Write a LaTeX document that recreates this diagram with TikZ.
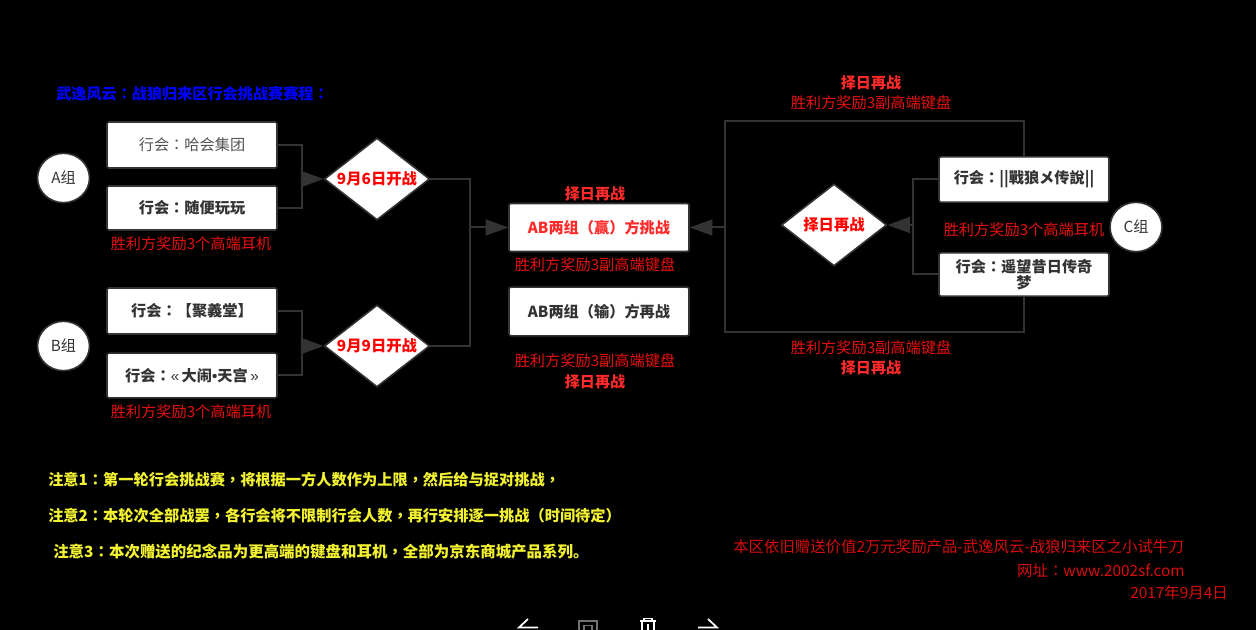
\documentclass[tikz,border=0pt]{standalone}
\usepackage{fontspec}
\setmainfont{Noto Sans CJK SC}
\newfontfamily\tcf{Noto Sans CJK TC}
\newfontfamily\latf{Liberation Sans}
\newcommand{\pc}[1]{{\tcf #1}}
\usetikzlibrary{shapes.geometric,arrows.meta}
\definecolor{ln}{HTML}{333333}
\definecolor{rd}{HTML}{E81010}
\definecolor{frd}{HTML}{D80C0C}
\definecolor{brd}{HTML}{FF2A2A}
\definecolor{yl}{HTML}{F2F230}
\tikzset{
  x=.75pt,y=-.75pt,
  fbox/.style={rectangle,rounded corners=1.5pt,fill=white,draw=ln,line width=1.2pt,minimum width=127.5pt,inner sep=0pt,text=ln,align=center,font=\fontsize{11.4}{13.5}\selectfont\bfseries},
  plainbox/.style={fbox,text=ln!85!white,font=\fontsize{11.4}{13.5}\selectfont},
  grp/.style={ellipse,fill=white,draw=ln,line width=1.2pt,minimum width=39pt,minimum height=37pt,inner sep=0pt,text=ln,font=\fontsize{11.4}{13}\selectfont},
  dia/.style={diamond,aspect=1.28,fill=white,draw=ln,line width=1.2pt,minimum width=79pt,minimum height=61.5pt,inner sep=0pt,text=red,font=\fontsize{11.5}{13}\selectfont\bfseries},
  conn/.style={ln,line width=1.5pt},
  arr/.style={ln,line width=1.5pt,-{Triangle[length=17pt,width=12pt,fill=ln]}},
  prize/.style={text=rd,inner sep=0pt,font=\fontsize{11.4}{13}\selectfont},
  retry/.style={text=brd,inner sep=0pt,font=\fontsize{11.3}{13}\selectfont\bfseries},
  note/.style={text=yl,inner sep=0pt,anchor=west,font=\fontsize{11.42}{13}\selectfont\bfseries},
  foot/.style={text=frd,inner sep=0pt,anchor=east,font=\fontsize{11.55}{13}\selectfont},
  icon/.style={white,line width=1.3pt}
}
\begin{document}
\begin{tikzpicture}
\useasboundingbox (0,0) rectangle (1256,630);
\fill[black] (0,0) rectangle (1256,630);
\begin{scope}
\clip (0,0) rectangle (1256,630);
\node[text=blue,inner sep=0pt,anchor=west,font=\fontsize{11.35}{13}\selectfont\bfseries] (title) at (56,94) {武逸风云\pc{：}战狼归来区行会挑战赛赛程\pc{：}};
% left group A
\node[plainbox,minimum height=34.5pt] (a1) at (192,145) {行会\pc{：}哈会集团};
\node[fbox,minimum height=33pt] (a2) at (192,208) {行会\pc{：}随便玩玩};
\node[grp] (ga) at (63.5,178) {A组};
\node[dia] (d1) at (377,179) {9月6日开战};
\node[prize] (pa) at (191,243.5) {胜利方奖励3个高端耳机};
% left group B
\node[fbox,minimum height=34.5pt] (b1) at (192,311) {行会\pc{：}【聚義堂】};
\node[fbox,minimum height=33.5pt] (b2) at (192,375.5) {行会\pc{：}{\latf\mdseries«\,}大闹{\latf •}天宫{\latf\mdseries\,»}};
\node[grp] (gb) at (63.5,346) {B组};
\node[dia] (d2) at (377,346) {9月9日开战};
\node[prize] (pb) at (191,411.5) {胜利方奖励3个高端耳机};
% centre
\node[fbox,minimum width=135pt,minimum height=36pt,text=brd] (w) at (599,227.5) {AB两组\pc{（}赢\pc{）}方挑战};
\node[fbox,minimum width=135pt,minimum height=36.5pt] (l) at (599,311.5) {AB两组\pc{（}输\pc{）}方再战};
\node[retry] (r1) at (595,194) {择日再战};
\node[prize] (p1) at (595,265) {胜利方奖励3副高端键盘};
\node[prize] (p2) at (595,361) {胜利方奖励3副高端键盘};
\node[retry] (r2) at (595,382) {择日再战};
% right
\node[fbox,minimum height=34pt] (c1) at (1024,179.5) {行会\pc{：}||戰狼メ传說||};
\node[fbox,minimum height=32.5pt] (c2) at (1024,274.5) {行会\pc{：}遥望昔日传奇\\[-1pt]梦};
\node[grp] (gc) at (1136,227) {C组};
\node[dia] (d3) at (834,225) {择日再战};
\node[prize] (pc) at (1024,230) {胜利方奖励3个高端耳机};
\node[retry] (r3) at (871,83) {择日再战};
\node[prize] (p3) at (871,103) {胜利方奖励3副高端键盘};
\node[prize] (p4) at (871,348) {胜利方奖励3副高端键盘};
\node[retry] (r4) at (871,368) {择日再战};
% connectors
\coordinate (ja) at (302,179);
\coordinate (jb) at (302,346);
\coordinate (jc) at (470,227.5);
\coordinate (jd) at (913,225);
\coordinate (tl) at (725,121);
\coordinate (bl) at (725,332);
\coordinate (ml) at (725,227.5);
\draw[conn] (a1.east) -| (ja);
\draw[conn] (a2.east) -| (ja);
\draw[arr] (ja) -- (d1.west);
\draw[conn] (b1.east) -| (jb);
\draw[conn] (b2.east) -| (jb);
\draw[arr] (jb) -- (d2.west);
\draw[conn] (d1.east) -| (jc);
\draw[conn] (d2.east) -| (jc);
\draw[arr] (jc) -- (w.west);
\draw[conn] (c1.west) -| (jd);
\draw[conn] (c2.west) -| (jd);
\draw[arr] (jd) -- (d3.east);
\draw[conn] (c1.north) |- (tl) -- (bl) -| (c2.south);
\draw[arr] (ml) -- (w.east);
% notes
\node[note] (n1) at (48,480) {注意1\pc{：}第一轮行会挑战赛\pc{，}将根据一方人数作为上限\pc{，}然后给与捉对挑战\pc{，}};
\node[note] (n2) at (48,516) {注意2\pc{：}本轮次全部战罢\pc{，}各行会将不限制行会人数\pc{，}再行安排逐一挑战\pc{（}时间待定\pc{）}};
\node[note,font=\fontsize{11.6}{13}\selectfont\bfseries] (n3) at (53,552) {注意3\pc{：}本次赠送的纪念品为更高端的键盘和耳机\pc{，}全部为京东商城产品系列。};
\node[foot] (f1) at (1184,547) {本区依旧赠送价值2万元奖励产品-武逸风云-战狼归来区之小试牛刀};
\node[foot] (f2) at (1185,571) {网址\pc{：}www.2002sf.com};
\node[foot] (f3) at (1228,593) {2017年9月4日};
% toolbar icons
\draw[icon] (528,619) -- (519,627.5) -- (538,627.5);
\draw[ln!70!white,line width=1.2pt] (579,630) -- (579,621) -- (597,621) -- (597,630);
\draw[ln!70!white,line width=1.2pt] (584,630) -- (584,625.5) -- (592,625.5) -- (592,630);
\draw[icon] (640,621) -- (656,621);
\draw[icon] (644,620.5) -- (644,618.5) -- (652,618.5) -- (652,620.5);
\draw[icon] (642,621) -- (642,630);
\draw[icon] (654,621) -- (654,630);
\draw[icon] (648,624) -- (648,630);
\draw[icon] (708,619) -- (717,627.5) -- (698,627.5);
\end{scope}
\end{tikzpicture}
\end{document}
